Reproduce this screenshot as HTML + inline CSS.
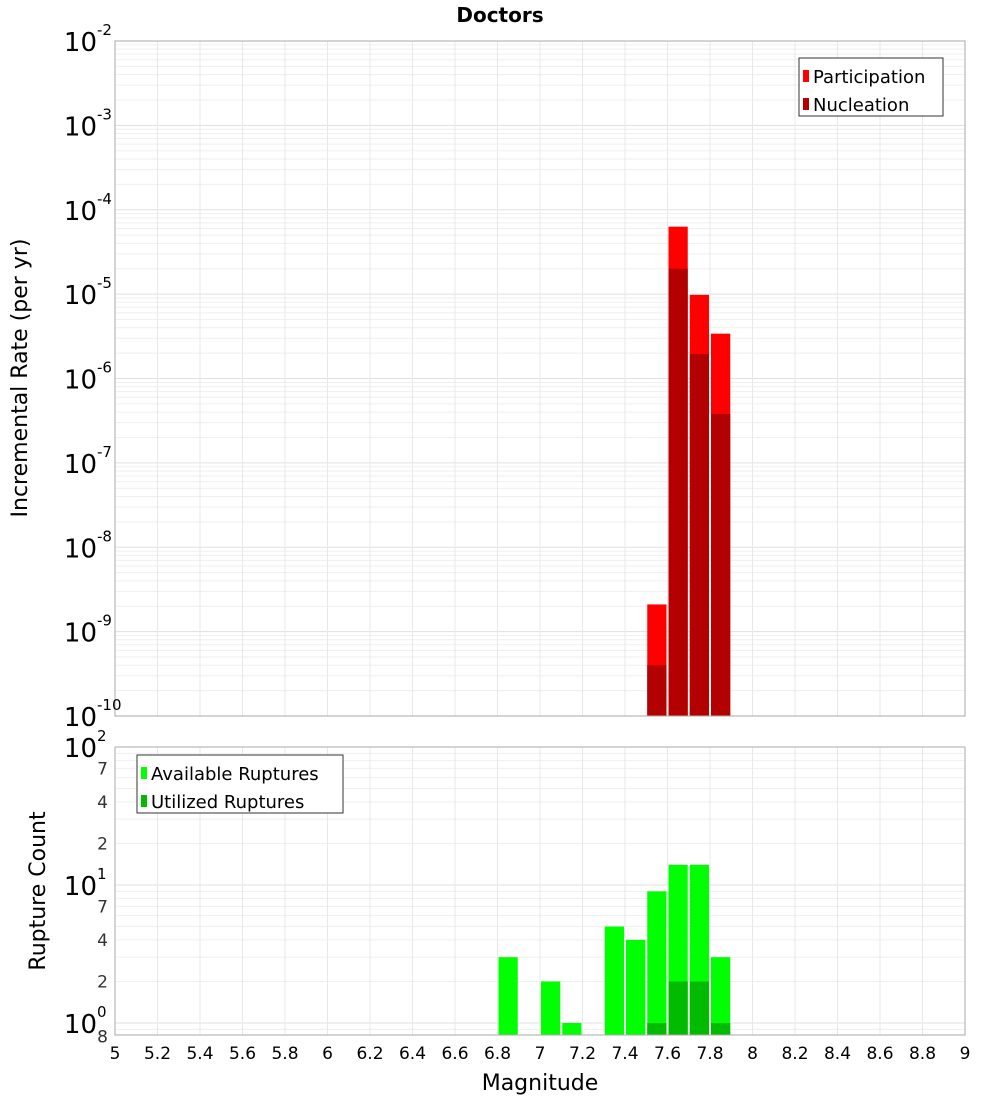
<!DOCTYPE html>
<html><head><meta charset="utf-8"><style>
body{margin:0;background:#fff;font-family:"DejaVu Sans","Liberation Sans",sans-serif}
svg{display:block}
</style></head><body>
<svg id="c" width="1000" height="1100" xmlns="http://www.w3.org/2000/svg">
<text x="500" y="22" text-anchor="middle" font-weight="bold" font-size="20">Doctors</text>
<g id="topPlot"></g>
<g id="botPlot"></g>
<text transform="translate(27,378) rotate(-90)" text-anchor="middle" font-size="22">Incremental Rate (per yr)</text>
<text transform="translate(45,891) rotate(-90)" text-anchor="middle" font-size="22">Rupture Count</text>
<text x="540" y="1090" text-anchor="middle" font-size="22">Magnitude</text>
</svg>
<script>
const mags=[7.55,7.65,7.75,7.85];
const partRates=[2.1e-9,6.3e-5,9.8e-6,3.4e-6];
const nuclRates=[4e-10,2e-5,1.95e-6,3.8e-7];
const cntMags=[6.85,7.05,7.15,7.35,7.45,7.55,7.65,7.75,7.85];
const availCounts=[3,2,1,5,4,9,14,14,3];
const utilMags=[7.55,7.65,7.75,7.85];
const utilCounts=[1,2,2,1];
const xTicks=[5,5.2,5.4,5.6,5.8,6,6.2,6.4,6.6,6.8,7,7.2,7.4,7.6,7.8,8,8.2,8.4,8.6,8.8,9];
const topExps=[-2,-3,-4,-5,-6,-7,-8,-9,-10];

const NS="http://www.w3.org/2000/svg";
const X0=115,X1=965;
const xs=m=>X0+(m-5)/4*(X1-X0);
const T0=41,T1=716;
const ty=v=>T0+(-2-Math.log10(v))/8*(T1-T0);
const B0=747,B1=1035;
const DEC=138;
const by=v=>B0+(2-Math.log10(v))*DEC;
function mk(p,tag,a,txt){const e=document.createElementNS(NS,tag);for(const k in a)e.setAttribute(k,a[k]);if(txt!=null)e.textContent=txt;p.appendChild(e);return e;}
const topG=document.getElementById('topPlot'),botG=document.getElementById('botPlot');

function grid(g,y0,y1,yfun,lo,hi){
  for(let e=lo;e<hi;e++)for(let k=1;k<10;k++){const v=k*Math.pow(10,e);const y=yfun(v);if(y<y0-0.5||y>y1+0.5)continue;
    const l=mk(g,'line',{x1:X0,x2:X1,y1:y,y2:y,stroke:k==1?'#e0e0e0':'#efefef','stroke-width':1});
    
    }
  xTicks.forEach(t=>{const x=xs(t);const l=mk(g,'line',{x1:x,x2:x,y1:y0,y2:y1,stroke:'#e8e8e8'});
    
    });
}
grid(topG,T0,T1,ty,-10,-2);
grid(botG,B0,B1,by,-1,2);

function bar(g,m,v,yfun,base,col,name){const x=xs(m-0.05)+1,w=xs(m+0.05)-xs(m-0.05)-2;const y=yfun(v);
  const r=mk(g,'rect',{x:x,y:y,width:w,height:base-y,fill:col});
  
  }
mags.forEach((m,i)=>bar(topG,m,partRates[i],ty,T1,'#ff0000','participation-bar'));
mags.forEach((m,i)=>bar(topG,m,nuclRates[i],ty,T1,'#b30000','nucleation-bar'));
cntMags.forEach((m,i)=>bar(botG,m,availCounts[i],by,B1,'#00ff00','available-bar'));
utilMags.forEach((m,i)=>bar(botG,m,utilCounts[i],by,B1,'#00bb00','utilized-bar'));

let b1=mk(topG,'rect',{x:X0,y:T0,width:X1-X0,height:T1-T0,fill:'none',stroke:'#aaa'});


let b2=mk(botG,'rect',{x:X0,y:B0,width:X1-X0,height:B1-B0,fill:'none',stroke:'#aaa'});



topExps.forEach(e=>{const y=ty(Math.pow(10,e));
  const t=mk(topG,'text',{x:97,y:y+10,'text-anchor':'end','font-size':26},'10');
  
  
  const s=mk(topG,'text',{x:97,y:y-6,'font-size':15},String(e));
  
  });

[[100,'10','2'],[10,'10','1'],[1,'10','0']].forEach(([v,b,e])=>{const y=by(v);
  const t=mk(botG,'text',{x:97,y:y+10,'text-anchor':'end','font-size':26},b);
  
  
  const s=mk(botG,'text',{x:97,y:y-6,'font-size':15},e);
  
  });
[[70,'7'],[40,'4'],[20,'2'],[7,'7'],[4,'4'],[2,'2'],[0.8,'8']].forEach(([v,l])=>{const y=by(v);
  const t=mk(botG,'text',{x:108,y:y+6,'text-anchor':'end','font-size':17,fill:'#333'},l);
  
  });

xTicks.forEach(t=>{const x=xs(t);
  const e=mk(botG,'text',{x:x,y:1059,'text-anchor':'middle','font-size':17},String(t));
  
  });

function legend(g,x,y,w,items){const r=mk(g,'rect',{x:x,y:y,width:w,height:58,fill:'#fff',stroke:'#333'});
  
  
  items.forEach(([lab,col],i)=>{const yy=y+18+i*28;
    const s=mk(g,'rect',{x:x+4,y:yy-6,width:6,height:12,fill:col});
    
    
    const t=mk(g,'text',{x:x+14,y:yy+7,'font-size':18},lab);
    
    });}
legend(topG,799,58,144,[['Participation','#ff0000'],['Nucleation','#b30000']]);
legend(botG,137,755,206,[['Available Ruptures','#00ff00'],['Utilized Ruptures','#00bb00']]);
</script>
</body></html>
